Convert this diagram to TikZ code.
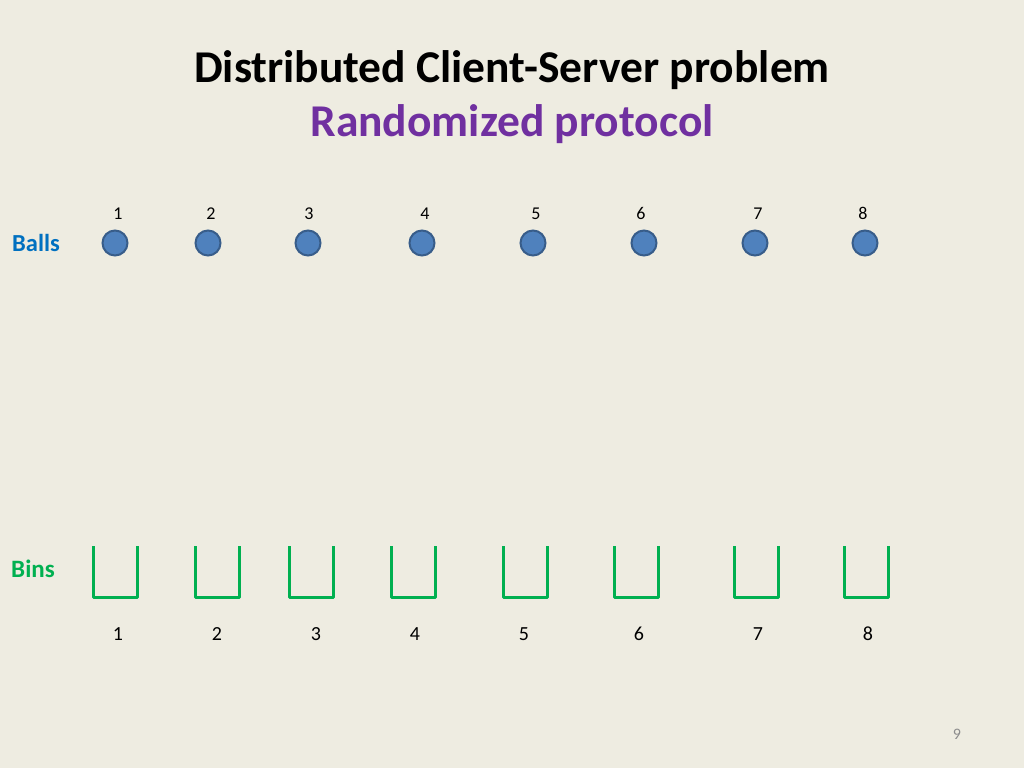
\documentclass[tikz,border=0pt]{standalone}
\usepackage{fontspec}
\setmainfont{Carlito}
\definecolor{bg}{HTML}{EEECE1}
\definecolor{ballfill}{HTML}{4F81BD}
\definecolor{balldraw}{HTML}{385D8A}
\definecolor{ballslbl}{HTML}{0070C0}
\definecolor{binslbl}{HTML}{00B050}
\definecolor{titlepurple}{HTML}{7030A0}
\definecolor{pagegray}{HTML}{8C8C8C}
\tikzset{
  ball/.style={circle, fill=ballfill, draw=balldraw, line width=2pt, minimum size=25pt, inner sep=0pt},
  ballnum/.style={font=\fontsize{18}{18}\selectfont, inner sep=0pt, anchor=base},
  binnum/.style={font=\fontsize{20}{20}\selectfont, inner sep=0pt, anchor=base},
  binline/.style={draw=binslbl, line width=3pt, line join=round},
}
\begin{document}
\begin{tikzpicture}[x=1pt,y=-1pt]
\fill[bg] (0,0) rectangle (1024,768);
\useasboundingbox (0,0) rectangle (1024,768);
\node[font=\bfseries\fontsize{45.5}{45.5}\selectfont] (title) at (512,70) {Distributed Client-Server problem};
\node[font=\bfseries\fontsize{45.5}{45.5}\selectfont, text=titlepurple] (subtitle) at (512,124) {Randomized protocol};
\node[font=\bfseries\fontsize{24.5}{24.5}\selectfont, text=ballslbl] (ballslabel) at (36,243) {Balls};
\node[font=\bfseries\fontsize{25}{25}\selectfont, text=binslbl] (binslabel) at (33,569) {Bins};
\foreach \i/\bx/\lx in {1/115/118, 2/208/211, 3/308/309, 4/422/425, 5/533/536, 6/644/641, 7/755/758, 8/865/863} {
  \node[ball] (ball\i) at (\bx,243) {};
  \node[ballnum] (ballnum\i) at (\lx,219.5) {\i};
}
\foreach \i/\bx/\lx in {1/115/118, 2/217/217, 3/311/316, 4/413/415, 5/525/524, 6/636/639, 7/756/758, 8/866/868} {
  \coordinate (bintl\i) at (\bx-22,546);
  \coordinate (bintr\i) at (\bx+22,546);
  \draw[binline] (bintl\i) -- (\bx-22,597) -- (\bx+22,597) -- (bintr\i);
  \node[binnum] (binnum\i) at (\lx,640.5) {\i};
}
\node[font=\fontsize{16}{16}\selectfont, text=pagegray, anchor=base] (pagenum) at (957,739) {9};
\end{tikzpicture}
\end{document}
